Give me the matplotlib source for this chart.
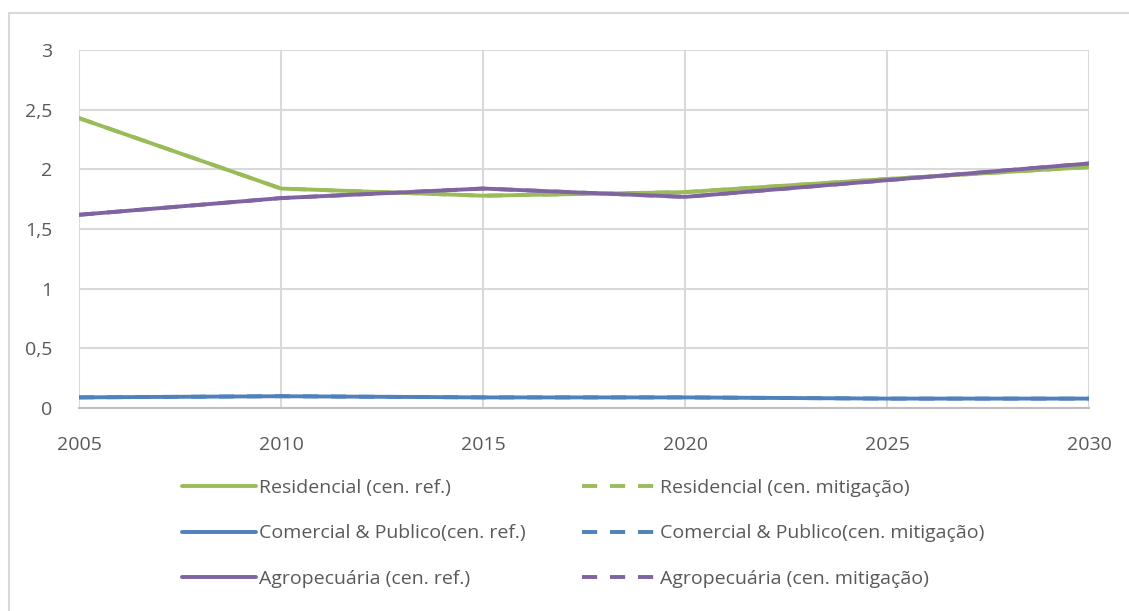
import matplotlib.pyplot as plt
from matplotlib.patches import Rectangle
from matplotlib.ticker import FuncFormatter

plt.rcParams['font.family'] = ['Open Sans', 'DejaVu Sans']

# --- Daten ---
anos = [2005, 2010, 2015, 2020, 2025, 2030]
residencial_ref = [2.43, 1.84, 1.78, 1.81, 1.92, 2.02]
residencial_mit = [2.43, 1.84, 1.78, 1.81, 1.92, 2.02]
comercial_ref = [0.09, 0.10, 0.09, 0.09, 0.08, 0.08]
comercial_mit = [0.09, 0.10, 0.09, 0.09, 0.08, 0.08]
agro_ref = [1.62, 1.76, 1.84, 1.77, 1.91, 2.05]
agro_mit = [1.62, 1.76, 1.84, 1.77, 1.91, 2.05]

labels_ref = ["Residencial (cen. ref.)", "Comercial & Publico(cen. ref.)", "Agropecuária (cen. ref.)"]
labels_mit = ["Residencial (cen. mitigação)", "Comercial & Publico(cen. mitigação)", "Agropecuária (cen. mitigação)"]
cores = ["#9BBB59", "#4F81BD", "#8064A2"]

fig = plt.figure(figsize=(11.29, 6.11), dpi=100)
ax = fig.add_axes([0.070, 0.332, 0.8946, 0.586])

handles_ref = []
handles_mit = []
for serie_ref, serie_mit, cor, lab_r, lab_m in zip(
        [residencial_ref, comercial_ref, agro_ref],
        [residencial_mit, comercial_mit, agro_mit],
        cores, labels_ref, labels_mit):
    h_m, = ax.plot(anos, serie_mit, color=cor, lw=2.8, ls=(0, (3.9, 3.3)), label=lab_m, zorder=2)
    h_r, = ax.plot(anos, serie_ref, color=cor, lw=2.8, label=lab_r, zorder=3,
                   solid_capstyle='round')
    handles_ref.append(h_r)
    handles_mit.append(h_m)

ax.set_xlim(2005, 2030)
ax.set_ylim(0, 3)
ax.set_xticks(anos)
ax.set_yticks([0, 0.5, 1, 1.5, 2, 2.5, 3])
ax.yaxis.set_major_formatter(FuncFormatter(lambda v, p: f"{v:g}".replace(".", ",")))
ax.grid(True, color="#d9d9d9", lw=1.5)
ax.set_axisbelow(True)
for s in ["top", "right", "left"]:
    ax.spines[s].set_visible(False)
ax.spines["bottom"].set_color("#bfbfbf")
ax.spines["bottom"].set_linewidth(1.5)
ax.tick_params(axis="y", length=0, pad=19, labelsize=14, labelcolor="#595959")
ax.tick_params(axis="x", length=0, pad=20, labelsize=14, labelcolor="#595959")

fig.legend(handles_ref + handles_mit, labels_ref + labels_mit, ncol=2,
           loc="center", bbox_to_anchor=(0.5165, 0.127), frameon=False,
           fontsize=14, labelcolor="#595959", handlelength=3.8,
           handletextpad=0.2, columnspacing=2.9, labelspacing=1.42)

# Rahmen um das Diagramm (rechts/unten abgeschnitten)
fig.add_artist(Rectangle((9 / 1129, -0.1), 1.2, 0.9787 + 0.1, transform=fig.transFigure,
                         fill=False, edgecolor="#d9d9d9", lw=1.5))

fig.savefig("out.png", dpi=100)
